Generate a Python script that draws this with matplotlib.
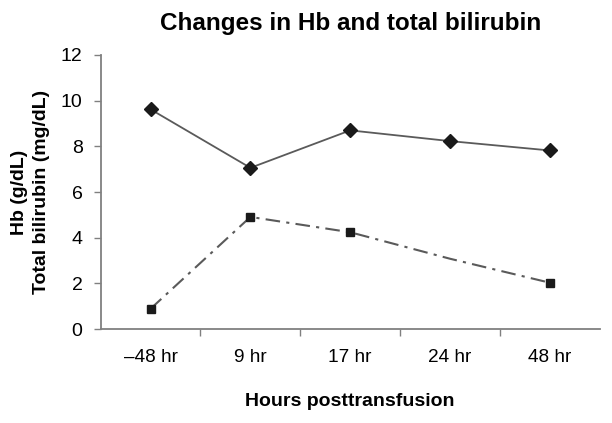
import numpy as np
import matplotlib
matplotlib.use("Agg")
import matplotlib.pyplot as plt

plt.rcParams['font.family'] = ['Liberation Sans', 'DejaVu Sans']

categories = ["\u201348 hr", "9 hr", "17 hr", "24 hr", "48 hr"]
hb = [9.62, 7.06, 8.70, 8.23, 7.82]
bilirubin = [0.89, 4.91, 4.24, 3.08, 2.03]
bili_marked = [0, 1, 2, 4]  # no marker shown at 24 hr

fig = plt.figure(figsize=(6.12, 4.23), dpi=100)
ax = fig.add_axes([0.1645, 0.222, 0.8155, 0.648])

x = np.arange(len(categories))
ax.plot(x, hb, color='#5a5a5a', linewidth=1.3, linestyle='-',
        marker='D', markersize=7, markerfacecolor='#1a1a1a',
        markeredgecolor='#1a1a1a', zorder=3)
ax.plot(x, bilirubin, color='#5a5a5a', linewidth=1.5, linestyle=(0, (7, 3, 1.5, 3)),
        marker='s', markersize=6, markerfacecolor='#1a1a1a',
        markeredgecolor='#1a1a1a', markevery=bili_marked, zorder=3)

ax.set_xlim(-0.5, len(categories) - 0.5)
ax.set_ylim(0, 12)
ax.set_yticks(range(0, 13, 2))
ax.set_xticks(x)
ax.set_xticklabels(categories, fontsize=13.7)
ax.tick_params(axis='x', length=0, pad=14)
ax.set_xticks(np.arange(0.5, len(categories) - 0.5, 1), minor=True)
ax.tick_params(axis='x', which='minor', length=5, color='#808080', width=1)
ax.tick_params(axis='y', length=5, color='#808080', width=1, labelsize=14, pad=8)

for s in ['top', 'right']:
    ax.spines[s].set_visible(False)
for s in ['left', 'bottom']:
    ax.spines[s].set_color('#808080')
    ax.spines[s].set_linewidth(1.3)

ax.set_title("Changes in Hb and total bilirubin", fontsize=17.5, fontweight='bold', pad=18)
ax.set_xlabel("Hours posttransfusion", fontsize=14, fontweight='bold', labelpad=20)
ax.set_ylabel("Hb (g/dL)\nTotal bilirubin (mg/dL)", fontsize=14, fontweight='bold',
              labelpad=8, linespacing=1.35)

fig.savefig("out.png", dpi=100)
